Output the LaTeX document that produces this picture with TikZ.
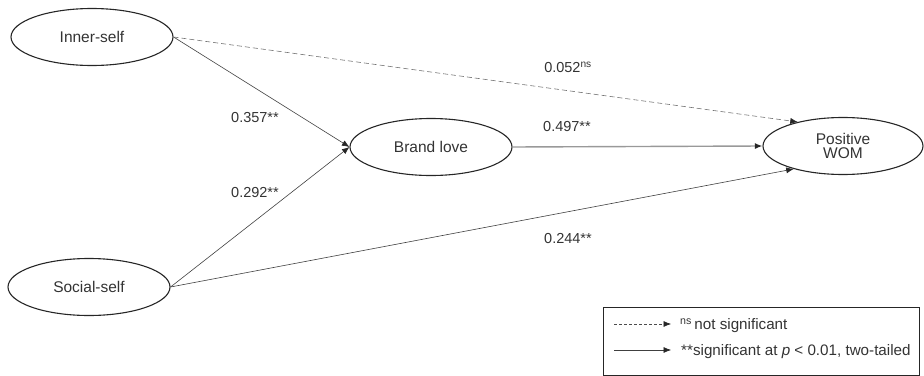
\documentclass[tikz,border=0pt]{standalone}
\usepackage{fontspec}
\setmainfont{Liberation Sans}
\usetikzlibrary{shapes.geometric,arrows.meta}
\begin{document}
\begin{tikzpicture}[x=1pt,y=-1pt,
  construct/.style={ellipse,draw=black!85,line width=1.1pt,minimum width=162pt,minimum height=57pt,inner sep=0pt,font=\fontsize{15.5}{17}\selectfont,text=black!80,align=center},
  path/.style={draw=black!75,line width=0.6pt,-{Latex[length=7.5pt,width=6pt,color=black!85]}},
  nspath/.style={path,dashed,dash pattern=on 5pt off 3pt,draw=black!55},
  mainpath/.style={path,draw=black!40,line width=1.4pt},
  coef/.style={font=\fontsize{14.5}{16}\selectfont,text=black!80,inner sep=0pt},
  legtext/.style={font=\fontsize{15.2}{17}\selectfont,text=black!80,inner sep=0pt,anchor=base west}]
\useasboundingbox (0,0) rectangle (924,375);

% constructs
\node[construct] (inner) at (92,37) {Inner-self};
\node[construct] (social) at (89,287) {Social-self};
\node[construct] (love) at (431,147) {Brand love};
\node[construct,minimum width=160pt,text depth=0pt] (wom) at (843,146) {Positive\\[-3pt]WOM};

% structural paths
\draw[path] (inner.east) -- (love.west);
\draw[path] (social.east) -- (love.west);
\draw[nspath] (inner.east) -- (wom.152);
\draw[mainpath] (love.east) -- (wom.west);
\draw[path] (social.east) -- (wom.205);

% path coefficients
\node[coef] (c1) at (255,118) {0.357**};
\node[coef] (c2) at (255,193) {0.292**};
\node[coef] (c3) at (567,127) {0.497**};
\node[coef] (c4) at (568,67) {0.052\textsuperscript{ns}};
\node[coef] (c5) at (568,239) {0.244**};

% legend
\node[draw=black!85,line width=1pt,minimum width=316pt,minimum height=68pt,anchor=north west,inner sep=0pt] (legend) at (603,307) {};
\coordinate (d0) at (614,324);
\coordinate (d1) at (671,324);
\coordinate (s0) at (614,350);
\coordinate (s1) at (671,350);
\draw[nspath,draw=black!70,dash pattern=on 3pt off 2pt] (d0) -- (d1);
\draw[path] (s0) -- (s1);
\node[legtext] (l1) at (680,329.5) {\textsuperscript{ns}\,not significant};
\node[legtext] (l2) at (681,355.5) {**significant at \textit{p} < 0.01, two-tailed};
\end{tikzpicture}
\end{document}
